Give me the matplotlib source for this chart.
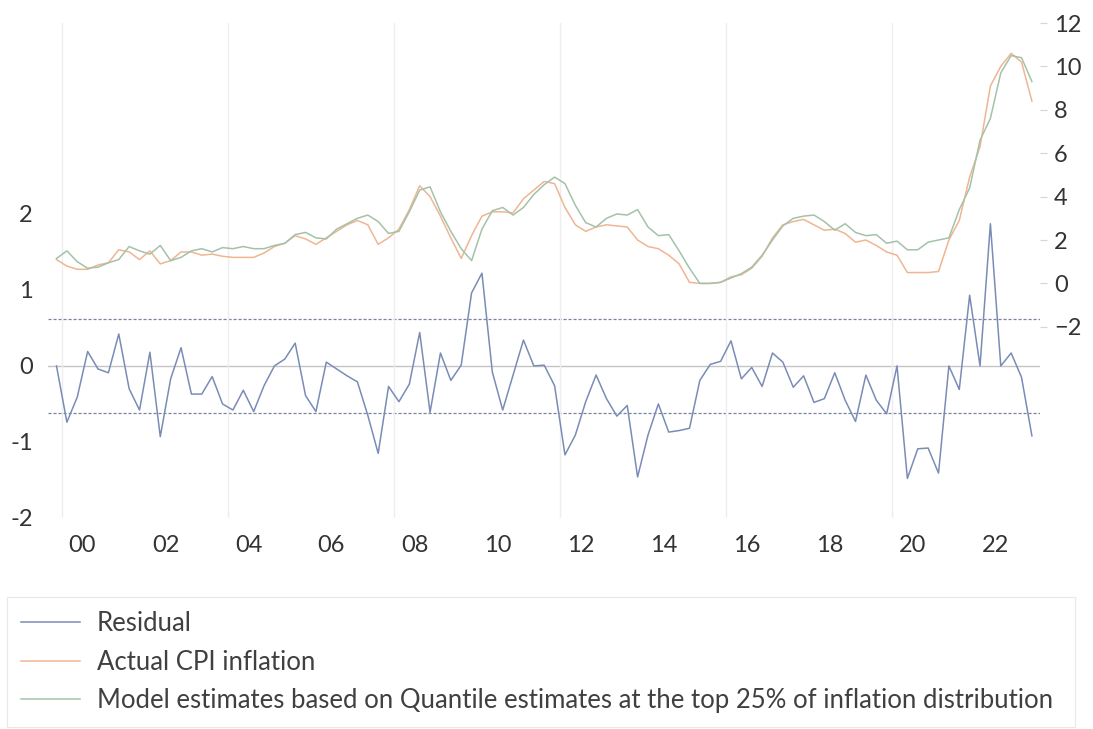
import numpy as np
import pandas as pd
import matplotlib
matplotlib.use("Agg")
import matplotlib.pyplot as plt
from matplotlib.lines import Line2D

plt.rcParams['font.family'] = ['Lato', 'DejaVu Sans']

# quarterly data, 1999Q4 - 2023Q2
quarters = pd.period_range("1999Q4", "2023Q2", freq="Q")

residual = [0.00, -0.74, -0.41, 0.19, -0.04, -0.09, 0.42, -0.30, -0.58, 0.18,
            -0.93, -0.17, 0.24, -0.37, -0.37, -0.14, -0.50, -0.58, -0.32, -0.60,
            -0.26, 0.00, 0.09, 0.30, -0.39, -0.60, 0.05, -0.04, -0.13, -0.21,
            -0.65, -1.15, -0.27, -0.47, -0.24, 0.44, -0.61, 0.17, -0.19, 0.01,
            0.96, 1.22, -0.08, -0.58, -0.12, 0.34, 0.00, 0.01, -0.26, -1.17,
            -0.91, -0.47, -0.12, -0.43, -0.66, -0.52, -1.46, -0.91, -0.50, -0.87,
            -0.85, -0.82, -0.19, 0.02, 0.06, 0.33, -0.17, -0.02, -0.27, 0.17,
            0.05, -0.28, -0.13, -0.48, -0.43, -0.09, -0.45, -0.73, -0.12, -0.45,
            -0.63, 0.00, -1.48, -1.09, -1.08, -1.41, 0.00, -0.31, 0.93, 0.00,
            1.87, 0.00, 0.17, -0.15, -0.92]

actual_cpi = [1.1, 0.8, 0.65, 0.65, 0.85, 0.95, 1.55, 1.45, 1.1, 1.5,
              0.9, 1.05, 1.45, 1.45, 1.3, 1.35, 1.25, 1.2, 1.2, 1.2,
              1.4, 1.7, 1.85, 2.2, 2.05, 1.8, 2.1, 2.4, 2.7, 2.9,
              2.7, 1.8, 2.1, 2.5, 3.4, 4.5, 4.0, 3.1, 2.1, 1.15,
              2.2, 3.1, 3.3, 3.3, 3.25, 3.9, 4.3, 4.7, 4.6, 3.5,
              2.7, 2.4, 2.6, 2.7, 2.65, 2.6, 2.0, 1.7, 1.6, 1.3,
              0.9, 0.05, 0.0, 0.0, 0.05, 0.3, 0.4, 0.7, 1.25, 2.1,
              2.7, 2.85, 2.95, 2.7, 2.45, 2.5, 2.3, 1.9, 2.0, 1.75,
              1.45, 1.3, 0.5, 0.5, 0.5, 0.55, 2.0, 2.9, 4.9, 6.3,
              9.1, 10.0, 10.6, 10.2, 8.4]

model_est = [1.15, 1.5, 1.0, 0.7, 0.75, 0.95, 1.1, 1.7, 1.5, 1.35,
             1.75, 1.05, 1.2, 1.5, 1.6, 1.45, 1.65, 1.6, 1.7, 1.6,
             1.6, 1.75, 1.85, 2.25, 2.35, 2.1, 2.05, 2.5, 2.75, 3.0,
             3.15, 2.85, 2.3, 2.4, 3.3, 4.3, 4.45, 3.3, 2.4, 1.6,
             1.05, 2.5, 3.35, 3.5, 3.15, 3.5, 4.1, 4.55, 4.9, 4.6,
             3.6, 2.8, 2.6, 3.0, 3.2, 3.15, 3.4, 2.6, 2.2, 2.25,
             1.5, 0.7, 0.0, 0.0, 0.05, 0.25, 0.45, 0.75, 1.3, 2.0,
             2.65, 3.0, 3.1, 3.15, 2.85, 2.45, 2.75, 2.35, 2.2, 2.25,
             1.85, 1.95, 1.55, 1.55, 1.9, 2.0, 2.1, 3.4, 4.4, 6.6,
             7.6, 9.7, 10.5, 10.4, 9.3]

band = 0.62  # dashed reference lines on the residual axis
year_labels = ["00", "02", "04", "06", "08", "10", "12", "14", "16", "18", "20", "22"]
label_years = np.arange(2000, 2023, 2)
grid_years = np.arange(2000, 2021, 4)

x = quarters.year + (quarters.quarter - 1) * 0.25 + 0.125

c_res = "#7a8cb6"
c_cpi = "#f0b592"
c_mod = "#a4c2a9"
txt = "#333333"

fig = plt.figure(figsize=(10.93, 7.29), dpi=100)
ax = fig.add_axes([48 / 1093, 1 - 518 / 729, 992 / 1093, 495 / 729])
ax2 = ax.twinx()

# residual on left axis
ax.plot(x, residual, color=c_res, lw=1.1, zorder=3)
ax.axhline(0, color="#c4c4c4", lw=1.0, zorder=1)
ax.axhline(band, color="#7b8498", lw=0.9, ls=(0, (2.5, 1.5)), zorder=1)
ax.axhline(-band, color="#7b8498", lw=0.9, ls=(0, (2.5, 1.5)), zorder=1)

# CPI lines on right axis
ax2.plot(x, actual_cpi, color=c_cpi, lw=1.1)
ax2.plot(x, model_est, color=c_mod, lw=1.1)

ax.set_xlim(1999.67, 2023.57)
ax.set_ylim(-2, 4.51)
ax2.set_ylim(-10.81, 12)

ax.set_xticks(label_years + 0.5)
ax.set_xticklabels(year_labels)
ax.set_xticks(grid_years, minor=True)
ax.grid(which="minor", axis="x", color="#eeeeee", lw=1.0)
ax.tick_params(axis="x", which="both", length=0, pad=12, labelsize=17, labelcolor=txt)

ax.set_yticks([-2, -1, 0, 1, 2])
ax.set_yticklabels(["-2", "-1", "0", "1", "2"])
ax.tick_params(axis="y", length=0, pad=11, labelsize=17, labelcolor=txt)

ax2.set_yticks(np.arange(-2, 13, 2))
ax2.tick_params(axis="y", length=5, width=0.8, color="#d6d6d6", pad=5,
                labelsize=17, labelcolor=txt)

for a in (ax, ax2):
    for s in a.spines.values():
        s.set_visible(False)

handles = [Line2D([], [], color=c_res, lw=1.1),
           Line2D([], [], color=c_cpi, lw=1.1),
           Line2D([], [], color=c_mod, lw=1.1)]
labels = ["Residual", "Actual CPI inflation",
          "Model estimates based on Quantile estimates at the top 25% of inflation distribution"]
leg = fig.legend(handles, labels, loc="lower left", mode="expand",
                 bbox_to_anchor=(7 / 1093, 2 / 729, 1068 / 1093, 0.2),
                 fontsize=18.5, frameon=True, fancybox=False, edgecolor="#e3e3e3",
                 handlelength=2.3, handletextpad=0.65, borderpad=0.55,
                 labelspacing=0.52, borderaxespad=0)
leg.get_frame().set_linewidth(0.8)
for t in leg.get_texts():
    t.set_color("#404040")

fig.savefig("out.png", dpi=100)
